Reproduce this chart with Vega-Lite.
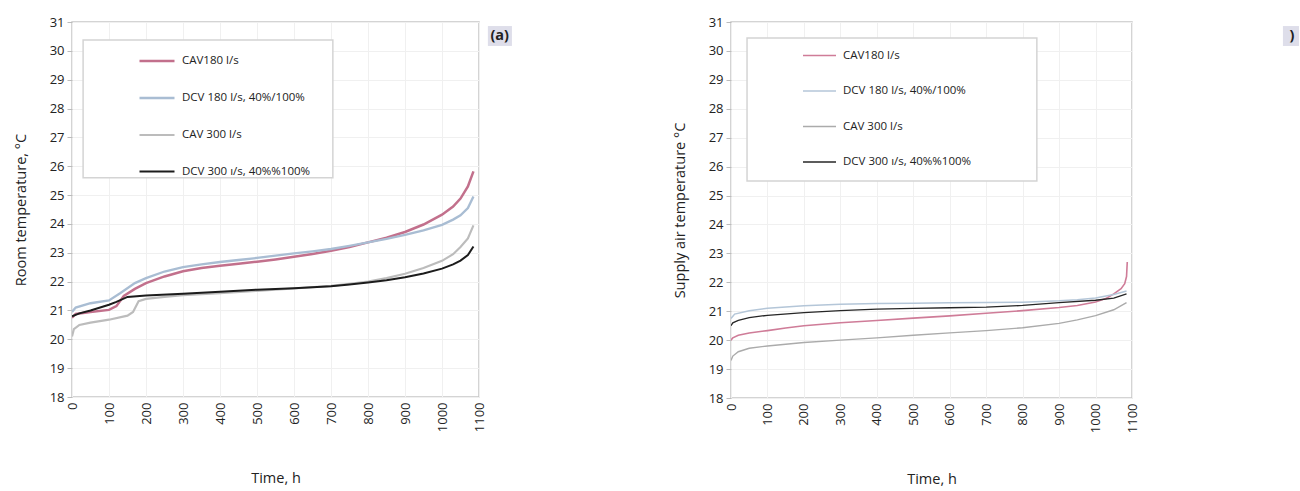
{
  "$schema": "https://vega.github.io/schema/vega-lite/v6.json",
  "background": "white",
  "padding": {"left": 12, "top": 15, "right": 0, "bottom": 0},
  "spacing": 158,
  "config": {
    "font": "Open Sans",
    "view": {"stroke": "#c6c6c6", "strokeWidth": 1.5},
    "axis": {"labelFontSize": 13, "labelColor": "#222", "titleFontSize": 14.5, "titleFontWeight": "normal", "titleColor": "#222", "gridColor": "#f0f0f0", "domain": false, "tickColor": "#bbb", "labelOverlap": false},
    "axisX": {"values": [0, 100, 200, 300, 400, 500, 600, 700, 800, 900, 1000, 1100], "format": "d", "labelAngle": 270, "ticks": false, "labelPadding": 5, "titlePadding": 40},
    "axisY": {"values": [18, 19, 20, 21, 22, 23, 24, 25, 26, 27, 28, 29, 30, 31], "format": "d", "tickSize": 5, "labelPadding": 3, "titlePadding": 21},
    "legend": {"symbolType": "stroke", "labelFontSize": 11.5, "labelColor": "#222", "padding": 0, "labelOffset": 6, "strokeColor": null, "fillColor": null}
  },
  "resolve": {"scale": {"color": "independent", "strokeWidth": "independent"}, "legend": {"color": "independent"}},
  "datasets": {
    "room": [
      {"series": "CAV180 l/s", "t": 0, "v": 20.75}, {"series": "CAV180 l/s", "t": 10, "v": 20.88}, {"series": "CAV180 l/s", "t": 50, "v": 20.95}, {"series": "CAV180 l/s", "t": 100, "v": 21.02}, {"series": "CAV180 l/s", "t": 120, "v": 21.15}, {"series": "CAV180 l/s", "t": 140, "v": 21.5}, {"series": "CAV180 l/s", "t": 170, "v": 21.75}, {"series": "CAV180 l/s", "t": 200, "v": 21.95}, {"series": "CAV180 l/s", "t": 250, "v": 22.18}, {"series": "CAV180 l/s", "t": 300, "v": 22.36}, {"series": "CAV180 l/s", "t": 350, "v": 22.47}, {"series": "CAV180 l/s", "t": 400, "v": 22.55}, {"series": "CAV180 l/s", "t": 450, "v": 22.62}, {"series": "CAV180 l/s", "t": 500, "v": 22.69}, {"series": "CAV180 l/s", "t": 550, "v": 22.77}, {"series": "CAV180 l/s", "t": 600, "v": 22.86}, {"series": "CAV180 l/s", "t": 650, "v": 22.96}, {"series": "CAV180 l/s", "t": 700, "v": 23.07}, {"series": "CAV180 l/s", "t": 750, "v": 23.2}, {"series": "CAV180 l/s", "t": 800, "v": 23.36}, {"series": "CAV180 l/s", "t": 850, "v": 23.52}, {"series": "CAV180 l/s", "t": 900, "v": 23.72}, {"series": "CAV180 l/s", "t": 950, "v": 23.98}, {"series": "CAV180 l/s", "t": 1000, "v": 24.32}, {"series": "CAV180 l/s", "t": 1030, "v": 24.6}, {"series": "CAV180 l/s", "t": 1050, "v": 24.88}, {"series": "CAV180 l/s", "t": 1070, "v": 25.3}, {"series": "CAV180 l/s", "t": 1085, "v": 25.82},
      {"series": "DCV 180 l/s, 40%/100%", "t": 0, "v": 20.95}, {"series": "DCV 180 l/s, 40%/100%", "t": 10, "v": 21.1}, {"series": "DCV 180 l/s, 40%/100%", "t": 50, "v": 21.25}, {"series": "DCV 180 l/s, 40%/100%", "t": 100, "v": 21.35}, {"series": "DCV 180 l/s, 40%/100%", "t": 130, "v": 21.6}, {"series": "DCV 180 l/s, 40%/100%", "t": 170, "v": 21.95}, {"series": "DCV 180 l/s, 40%/100%", "t": 200, "v": 22.12}, {"series": "DCV 180 l/s, 40%/100%", "t": 250, "v": 22.35}, {"series": "DCV 180 l/s, 40%/100%", "t": 300, "v": 22.5}, {"series": "DCV 180 l/s, 40%/100%", "t": 350, "v": 22.6}, {"series": "DCV 180 l/s, 40%/100%", "t": 400, "v": 22.68}, {"series": "DCV 180 l/s, 40%/100%", "t": 450, "v": 22.75}, {"series": "DCV 180 l/s, 40%/100%", "t": 500, "v": 22.82}, {"series": "DCV 180 l/s, 40%/100%", "t": 550, "v": 22.9}, {"series": "DCV 180 l/s, 40%/100%", "t": 600, "v": 22.98}, {"series": "DCV 180 l/s, 40%/100%", "t": 650, "v": 23.05}, {"series": "DCV 180 l/s, 40%/100%", "t": 700, "v": 23.13}, {"series": "DCV 180 l/s, 40%/100%", "t": 750, "v": 23.24}, {"series": "DCV 180 l/s, 40%/100%", "t": 800, "v": 23.36}, {"series": "DCV 180 l/s, 40%/100%", "t": 850, "v": 23.48}, {"series": "DCV 180 l/s, 40%/100%", "t": 900, "v": 23.62}, {"series": "DCV 180 l/s, 40%/100%", "t": 950, "v": 23.78}, {"series": "DCV 180 l/s, 40%/100%", "t": 1000, "v": 23.97}, {"series": "DCV 180 l/s, 40%/100%", "t": 1030, "v": 24.15}, {"series": "DCV 180 l/s, 40%/100%", "t": 1050, "v": 24.3}, {"series": "DCV 180 l/s, 40%/100%", "t": 1070, "v": 24.55}, {"series": "DCV 180 l/s, 40%/100%", "t": 1085, "v": 24.95},
      {"series": "CAV 300 l/s", "t": 0, "v": 20.1}, {"series": "CAV 300 l/s", "t": 5, "v": 20.35}, {"series": "CAV 300 l/s", "t": 20, "v": 20.5}, {"series": "CAV 300 l/s", "t": 50, "v": 20.58}, {"series": "CAV 300 l/s", "t": 100, "v": 20.68}, {"series": "CAV 300 l/s", "t": 150, "v": 20.82}, {"series": "CAV 300 l/s", "t": 165, "v": 20.95}, {"series": "CAV 300 l/s", "t": 180, "v": 21.32}, {"series": "CAV 300 l/s", "t": 200, "v": 21.4}, {"series": "CAV 300 l/s", "t": 250, "v": 21.47}, {"series": "CAV 300 l/s", "t": 300, "v": 21.53}, {"series": "CAV 300 l/s", "t": 400, "v": 21.6}, {"series": "CAV 300 l/s", "t": 500, "v": 21.68}, {"series": "CAV 300 l/s", "t": 600, "v": 21.76}, {"series": "CAV 300 l/s", "t": 700, "v": 21.85}, {"series": "CAV 300 l/s", "t": 750, "v": 21.92}, {"series": "CAV 300 l/s", "t": 800, "v": 22.0}, {"series": "CAV 300 l/s", "t": 850, "v": 22.12}, {"series": "CAV 300 l/s", "t": 900, "v": 22.27}, {"series": "CAV 300 l/s", "t": 950, "v": 22.47}, {"series": "CAV 300 l/s", "t": 1000, "v": 22.72}, {"series": "CAV 300 l/s", "t": 1030, "v": 22.95}, {"series": "CAV 300 l/s", "t": 1050, "v": 23.2}, {"series": "CAV 300 l/s", "t": 1070, "v": 23.5}, {"series": "CAV 300 l/s", "t": 1085, "v": 23.95},
      {"series": "DCV 300 ı/s, 40%%100%", "t": 0, "v": 20.8}, {"series": "DCV 300 ı/s, 40%%100%", "t": 20, "v": 20.9}, {"series": "DCV 300 ı/s, 40%%100%", "t": 50, "v": 21.0}, {"series": "DCV 300 ı/s, 40%%100%", "t": 100, "v": 21.2}, {"series": "DCV 300 ı/s, 40%%100%", "t": 120, "v": 21.3}, {"series": "DCV 300 ı/s, 40%%100%", "t": 150, "v": 21.47}, {"series": "DCV 300 ı/s, 40%%100%", "t": 200, "v": 21.52}, {"series": "DCV 300 ı/s, 40%%100%", "t": 300, "v": 21.58}, {"series": "DCV 300 ı/s, 40%%100%", "t": 400, "v": 21.65}, {"series": "DCV 300 ı/s, 40%%100%", "t": 500, "v": 21.72}, {"series": "DCV 300 ı/s, 40%%100%", "t": 600, "v": 21.77}, {"series": "DCV 300 ı/s, 40%%100%", "t": 700, "v": 21.84}, {"series": "DCV 300 ı/s, 40%%100%", "t": 750, "v": 21.9}, {"series": "DCV 300 ı/s, 40%%100%", "t": 800, "v": 21.97}, {"series": "DCV 300 ı/s, 40%%100%", "t": 850, "v": 22.05}, {"series": "DCV 300 ı/s, 40%%100%", "t": 900, "v": 22.15}, {"series": "DCV 300 ı/s, 40%%100%", "t": 950, "v": 22.28}, {"series": "DCV 300 ı/s, 40%%100%", "t": 1000, "v": 22.45}, {"series": "DCV 300 ı/s, 40%%100%", "t": 1030, "v": 22.6}, {"series": "DCV 300 ı/s, 40%%100%", "t": 1050, "v": 22.73}, {"series": "DCV 300 ı/s, 40%%100%", "t": 1070, "v": 22.92}, {"series": "DCV 300 ı/s, 40%%100%", "t": 1085, "v": 23.22}
    ],
    "supply": [
      {"series": "CAV180 l/s", "t": 0, "v": 20.0}, {"series": "CAV180 l/s", "t": 5, "v": 20.08}, {"series": "CAV180 l/s", "t": 20, "v": 20.17}, {"series": "CAV180 l/s", "t": 50, "v": 20.25}, {"series": "CAV180 l/s", "t": 100, "v": 20.33}, {"series": "CAV180 l/s", "t": 150, "v": 20.42}, {"series": "CAV180 l/s", "t": 200, "v": 20.5}, {"series": "CAV180 l/s", "t": 300, "v": 20.6}, {"series": "CAV180 l/s", "t": 400, "v": 20.68}, {"series": "CAV180 l/s", "t": 500, "v": 20.76}, {"series": "CAV180 l/s", "t": 600, "v": 20.84}, {"series": "CAV180 l/s", "t": 700, "v": 20.93}, {"series": "CAV180 l/s", "t": 800, "v": 21.02}, {"series": "CAV180 l/s", "t": 900, "v": 21.13}, {"series": "CAV180 l/s", "t": 950, "v": 21.2}, {"series": "CAV180 l/s", "t": 1000, "v": 21.32}, {"series": "CAV180 l/s", "t": 1030, "v": 21.45}, {"series": "CAV180 l/s", "t": 1050, "v": 21.6}, {"series": "CAV180 l/s", "t": 1070, "v": 21.78}, {"series": "CAV180 l/s", "t": 1080, "v": 21.95}, {"series": "CAV180 l/s", "t": 1085, "v": 22.2}, {"series": "CAV180 l/s", "t": 1087, "v": 22.7},
      {"series": "DCV 180 l/s, 40%/100%", "t": 0, "v": 20.75}, {"series": "DCV 180 l/s, 40%/100%", "t": 10, "v": 20.9}, {"series": "DCV 180 l/s, 40%/100%", "t": 50, "v": 21.02}, {"series": "DCV 180 l/s, 40%/100%", "t": 100, "v": 21.1}, {"series": "DCV 180 l/s, 40%/100%", "t": 200, "v": 21.19}, {"series": "DCV 180 l/s, 40%/100%", "t": 300, "v": 21.24}, {"series": "DCV 180 l/s, 40%/100%", "t": 400, "v": 21.27}, {"series": "DCV 180 l/s, 40%/100%", "t": 500, "v": 21.28}, {"series": "DCV 180 l/s, 40%/100%", "t": 600, "v": 21.29}, {"series": "DCV 180 l/s, 40%/100%", "t": 700, "v": 21.3}, {"series": "DCV 180 l/s, 40%/100%", "t": 800, "v": 21.31}, {"series": "DCV 180 l/s, 40%/100%", "t": 900, "v": 21.36}, {"series": "DCV 180 l/s, 40%/100%", "t": 950, "v": 21.4}, {"series": "DCV 180 l/s, 40%/100%", "t": 1000, "v": 21.46}, {"series": "DCV 180 l/s, 40%/100%", "t": 1050, "v": 21.58}, {"series": "DCV 180 l/s, 40%/100%", "t": 1085, "v": 21.7},
      {"series": "CAV 300 l/s", "t": 0, "v": 19.3}, {"series": "CAV 300 l/s", "t": 5, "v": 19.45}, {"series": "CAV 300 l/s", "t": 20, "v": 19.6}, {"series": "CAV 300 l/s", "t": 50, "v": 19.72}, {"series": "CAV 300 l/s", "t": 100, "v": 19.8}, {"series": "CAV 300 l/s", "t": 150, "v": 19.86}, {"series": "CAV 300 l/s", "t": 200, "v": 19.92}, {"series": "CAV 300 l/s", "t": 300, "v": 20.0}, {"series": "CAV 300 l/s", "t": 400, "v": 20.08}, {"series": "CAV 300 l/s", "t": 500, "v": 20.17}, {"series": "CAV 300 l/s", "t": 600, "v": 20.25}, {"series": "CAV 300 l/s", "t": 700, "v": 20.33}, {"series": "CAV 300 l/s", "t": 800, "v": 20.43}, {"series": "CAV 300 l/s", "t": 900, "v": 20.58}, {"series": "CAV 300 l/s", "t": 950, "v": 20.7}, {"series": "CAV 300 l/s", "t": 1000, "v": 20.85}, {"series": "CAV 300 l/s", "t": 1050, "v": 21.05}, {"series": "CAV 300 l/s", "t": 1085, "v": 21.3},
      {"series": "DCV 300 ı/s, 40%%100%", "t": 0, "v": 20.5}, {"series": "DCV 300 ı/s, 40%%100%", "t": 5, "v": 20.6}, {"series": "DCV 300 ı/s, 40%%100%", "t": 20, "v": 20.68}, {"series": "DCV 300 ı/s, 40%%100%", "t": 50, "v": 20.78}, {"series": "DCV 300 ı/s, 40%%100%", "t": 100, "v": 20.86}, {"series": "DCV 300 ı/s, 40%%100%", "t": 200, "v": 20.95}, {"series": "DCV 300 ı/s, 40%%100%", "t": 300, "v": 21.02}, {"series": "DCV 300 ı/s, 40%%100%", "t": 400, "v": 21.07}, {"series": "DCV 300 ı/s, 40%%100%", "t": 500, "v": 21.1}, {"series": "DCV 300 ı/s, 40%%100%", "t": 600, "v": 21.12}, {"series": "DCV 300 ı/s, 40%%100%", "t": 700, "v": 21.14}, {"series": "DCV 300 ı/s, 40%%100%", "t": 800, "v": 21.2}, {"series": "DCV 300 ı/s, 40%%100%", "t": 900, "v": 21.3}, {"series": "DCV 300 ı/s, 40%%100%", "t": 1000, "v": 21.38}, {"series": "DCV 300 ı/s, 40%%100%", "t": 1050, "v": 21.45}, {"series": "DCV 300 ı/s, 40%%100%", "t": 1085, "v": 21.6}
    ],
    "tagA": [{"x1": 1124, "x2": 1189, "y1": 30.86, "y2": 30.17, "xt": 1156, "yt": 30.5, "label": "(a)"}],
    "tagB": [{"x1": 1514, "x2": 1558, "y1": 30.86, "y2": 30.17, "xt": 1539, "yt": 30.5, "label": ")"}],
    "boxA": [{"x1": 30, "x2": 705, "y1": 30.38, "y2": 25.6}],
    "boxB": [{"x1": 44, "x2": 839, "y1": 30.45, "y2": 25.5}]
  },
  "hconcat": [
    {
      "width": 407, "height": 375,
      "encoding": {
        "x": {"type": "quantitative", "scale": {"domain": [0, 1100], "nice": false}, "axis": {"title": "Time,  h"}},
        "y": {"type": "quantitative", "scale": {"domain": [18, 31], "nice": false, "zero": false}, "axis": {"title": "Room temperature, °C"}}
      },
      "layer": [
        {
          "data": {"name": "boxA"},
          "mark": {"type": "rect", "fill": "white", "stroke": "#d4d4d4", "strokeWidth": 1.5},
          "encoding": {"x": {"field": "x1", "type": "quantitative"}, "x2": {"field": "x2"}, "y": {"field": "y1", "type": "quantitative"}, "y2": {"field": "y2"}}
        },
        {
          "data": {"name": "room"},
          "mark": {"type": "line", "clip": true},
          "encoding": {
            "x": {"field": "t", "type": "quantitative"},
            "y": {"field": "v", "type": "quantitative"},
            "color": {"field": "series", "type": "nominal", "sort": null,
              "scale": {"domain": ["CAV180 l/s", "DCV 180 l/s, 40%/100%", "CAV 300 l/s", "DCV 300 ı/s, 40%%100%"], "range": ["#c2708c", "#a9bdd3", "#bcbcbc", "#1c1c1c"]},
              "legend": {"title": null, "orient": "none", "legendX": 66, "legendY": 20, "symbolSize": 1225, "rowPadding": 12, "symbolStrokeWidth": 4}},
            "strokeWidth": {"field": "series", "type": "nominal", "scale": {"domain": ["CAV180 l/s", "DCV 180 l/s, 40%/100%", "CAV 300 l/s", "DCV 300 ı/s, 40%%100%"], "range": [2.5, 2, 3, 2.5]}, "legend": null},
            "order": {"field": "t", "type": "quantitative"}
          }
        },
        {
          "data": {"name": "tagA"},
          "mark": {"type": "rect", "fill": "#dedeea", "clip": false},
          "encoding": {"x": {"field": "x1", "type": "quantitative"}, "x2": {"field": "x2"}, "y": {"field": "y1", "type": "quantitative"}, "y2": {"field": "y2"}}
        },
        {
          "data": {"name": "tagA"},
          "mark": {"type": "text", "fontSize": 14.5, "fontWeight": "bold", "color": "#222", "align": "center", "baseline": "middle", "clip": false},
          "encoding": {"x": {"field": "xt", "type": "quantitative"}, "y": {"field": "yt", "type": "quantitative"}, "text": {"field": "label"}}
        }
      ]
    },
    {
      "width": 401, "height": 376,
      "encoding": {
        "x": {"type": "quantitative", "scale": {"domain": [0, 1100], "nice": false}, "axis": {"title": "Time,  h"}},
        "y": {"type": "quantitative", "scale": {"domain": [18, 31], "nice": false, "zero": false}, "axis": {"title": "Supply air temperature °C"}}
      },
      "layer": [
        {
          "data": {"name": "boxB"},
          "mark": {"type": "rect", "fill": "white", "stroke": "#d4d4d4", "strokeWidth": 1.5},
          "encoding": {"x": {"field": "x1", "type": "quantitative"}, "x2": {"field": "x2"}, "y": {"field": "y1", "type": "quantitative"}, "y2": {"field": "y2"}}
        },
        {
          "data": {"name": "supply"},
          "mark": {"type": "line", "clip": true},
          "encoding": {
            "x": {"field": "t", "type": "quantitative"},
            "y": {"field": "v", "type": "quantitative"},
            "color": {"field": "series", "type": "nominal", "sort": null,
              "scale": {"domain": ["CAV180 l/s", "DCV 180 l/s, 40%/100%", "CAV 300 l/s", "DCV 300 ı/s, 40%%100%"], "range": ["#cf7c98", "#b4c6d8", "#ababab", "#262626"]},
              "legend": {"title": null, "orient": "none", "legendX": 71, "legendY": 16, "symbolSize": 1089, "rowPadding": 12.5, "symbolStrokeWidth": 2.5}},
            "strokeWidth": {"field": "series", "type": "nominal", "scale": {"domain": ["CAV180 l/s", "DCV 180 l/s, 40%/100%", "CAV 300 l/s", "DCV 300 ı/s, 40%%100%"], "range": [1.6, 1.3, 2.6, 2]}, "legend": null},
            "order": {"field": "t", "type": "quantitative"}
          }
        },
        {
          "data": {"name": "tagB"},
          "mark": {"type": "rect", "fill": "#dedeea", "clip": false},
          "encoding": {"x": {"field": "x1", "type": "quantitative"}, "x2": {"field": "x2"}, "y": {"field": "y1", "type": "quantitative"}, "y2": {"field": "y2"}}
        },
        {
          "data": {"name": "tagB"},
          "mark": {"type": "text", "fontSize": 14.5, "fontWeight": "bold", "color": "#222", "align": "center", "baseline": "middle", "clip": false},
          "encoding": {"x": {"field": "xt", "type": "quantitative"}, "y": {"field": "yt", "type": "quantitative"}, "text": {"field": "label"}}
        }
      ]
    }
  ]
}
